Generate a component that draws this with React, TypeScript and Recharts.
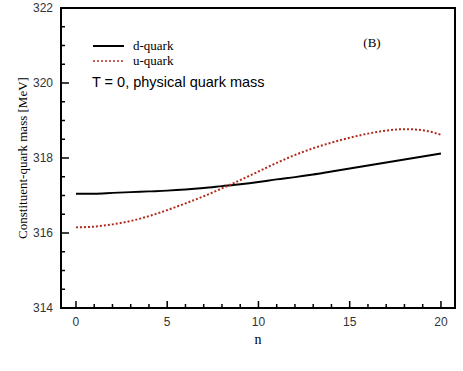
import React from 'react';
import {
  LineChart,
  Line,
  XAxis,
  YAxis,
  ReferenceArea,
} from 'recharts';

const nValues = [0, 1, 2, 3, 4, 5, 6, 7, 8, 9, 10, 11, 12, 13, 14, 15, 16, 17, 18, 19, 20];
const dQuark = [
  317.05, 317.05, 317.07, 317.09, 317.11, 317.13, 317.16, 317.2, 317.25, 317.3, 317.36,
  317.43, 317.49, 317.56, 317.64, 317.72, 317.8, 317.88, 317.96, 318.04, 318.12,
];
const uQuark = [
  316.15, 316.17, 316.23, 316.32, 316.45, 316.61, 316.79, 316.98, 317.19, 317.41, 317.64,
  317.87, 318.08, 318.26, 318.41, 318.54, 318.65, 318.73, 318.77, 318.74, 318.62,
];
const xTicks = [0, 1, 2, 3, 4, 5, 6, 7, 8, 9, 10, 11, 12, 13, 14, 15, 16, 17, 18, 19, 20];
const yTicks = [314, 314.5, 315, 315.5, 316, 316.5, 317, 317.5, 318, 318.5, 319, 319.5, 320, 320.5, 321, 321.5, 322];
const xMajor = [0, 5, 10, 15, 20];
const yMajor = [314, 316, 318, 320, 322];
const xDomain: [number, number] = [-0.82, 20.77];
const yDomain: [number, number] = [314, 322];

const data = nValues.map((n, i) => ({ n, d: dQuark[i], u: uQuark[i] }));

const sans = 'Liberation Sans, Arial, sans-serif';
const serif = 'Liberation Serif, Times New Roman, serif';

const XTick = (props: any) => {
  const { x, y, payload } = props;
  const major = xMajor.includes(payload.value);
  return (
    <g>
      <line x1={x} x2={x} y1={y} y2={y - (major ? 7 : 4)} stroke="#000" strokeWidth={1.5} />
      {major && (
        <text x={x} y={y + 18} textAnchor="middle" fontFamily={sans} fontSize={12} fill="#333">
          {payload.value}
        </text>
      )}
    </g>
  );
};

const YTick = (props: any) => {
  const { x, y, payload } = props;
  const major = yMajor.includes(payload.value);
  return (
    <g>
      <line x1={x} x2={x + (major ? 8 : 4)} y1={y} y2={y} stroke="#000" strokeWidth={1.5} />
      {major && (
        <text x={x - 8} y={y + 4} textAnchor="end" fontFamily={sans} fontSize={12} fill="#333">
          {payload.value}
        </text>
      )}
    </g>
  );
};

const LegendBox = () => (
  <svg width={463} height={100} style={{ position: 'absolute', left: 0, top: 0, pointerEvents: 'none' }}>
    <line x1={93} x2={124} y1={46} y2={46} stroke="#000" strokeWidth={2} />
    <text x={133} y={50} fontFamily={serif} fontSize={13} fill="#000">d-quark</text>
    <line x1={93} x2={124} y1={61} y2={61} stroke="#b22a1e" strokeWidth={1.5} strokeDasharray="2 2" />
    <text x={133} y={65} fontFamily={serif} fontSize={13} fill="#000">u-quark</text>
    <text x={92} y={87} fontFamily={sans} fontSize={14.5} fill="#000">T = 0, physical quark mass</text>
    <text x={372} y={47} textAnchor="middle" fontFamily={serif} fontSize={13} fill="#000">(B)</text>
  </svg>
);

export default function App() {
  return (
    <div style={{ position: 'absolute', left: 0, top: 0, width: 463, height: 371, background: '#fff' }}>
      <LineChart width={463} height={371} data={data} margin={{ top: 8, right: 8, left: 0, bottom: 13 }}>
        <XAxis
          dataKey="n"
          type="number"
          domain={xDomain}
          ticks={xTicks}
          interval={0}
          allowDataOverflow
          tickLine={false}
          tickSize={0}
          tickMargin={0}
          axisLine={{ stroke: '#000', strokeWidth: 2 }}
          tick={<XTick />}
          height={50}
          label={{ value: 'n', position: 'insideBottom', offset: 14, style: { fontFamily: serif, fontSize: 14, fill: '#000' } }}
        />
        <YAxis
          type="number"
          domain={yDomain}
          ticks={yTicks}
          interval={0}
          allowDataOverflow
          tickLine={false}
          tickSize={0}
          tickMargin={0}
          axisLine={{ stroke: '#000', strokeWidth: 2 }}
          tick={<YTick />}
          width={61}
          label={{
            value: 'Constituent-quark mass [MeV]',
            angle: -90,
            position: 'insideLeft',
            offset: 22,
            style: { textAnchor: 'middle', fontFamily: serif, fontSize: 13, fill: '#000' },
          }}
        />
        <ReferenceArea
          x1={xDomain[0]}
          x2={xDomain[1]}
          y1={yDomain[0]}
          y2={yDomain[1]}
          fill="#fff"
          fillOpacity={0}
          stroke="#000"
          strokeWidth={2}
        />
        <Line type="monotone" dataKey="d" stroke="#000" strokeWidth={2} dot={false} isAnimationActive={false} />
        <Line
          type="monotone"
          dataKey="u"
          stroke="#b22a1e"
          strokeWidth={2}
          strokeDasharray="2 2"
          dot={false}
          isAnimationActive={false}
        />
      </LineChart>
      <LegendBox />
    </div>
  );
}
